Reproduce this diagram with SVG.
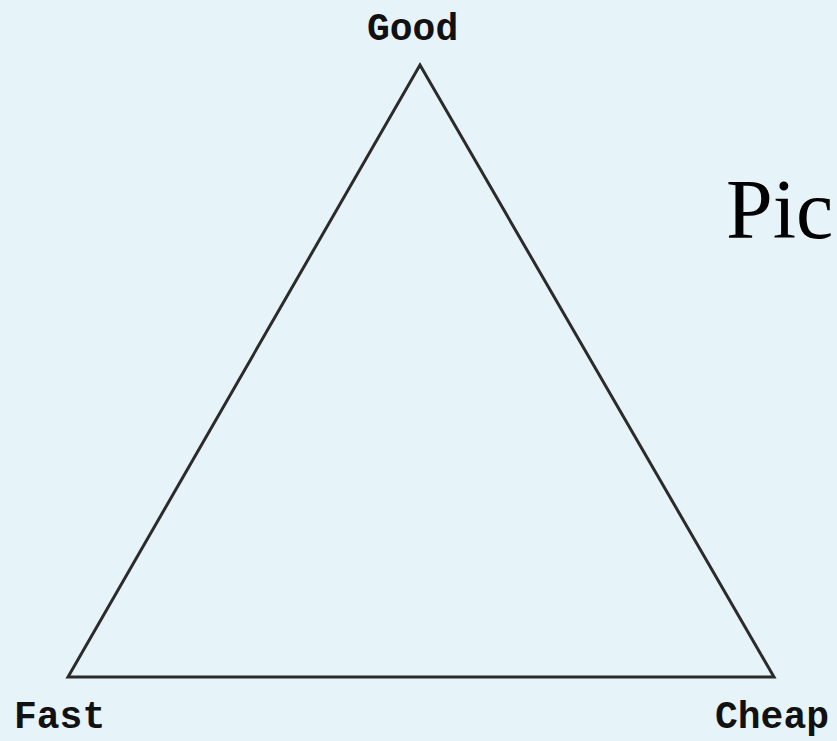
<svg xmlns="http://www.w3.org/2000/svg" width="837" height="741" viewBox="0 0 837 741">
<style>
.lbl{font-family:"Liberation Mono","DejaVu Sans Mono",monospace;font-size:38px;font-weight:bold;fill:#111}
.edge{fill:none;stroke:#2b2b2b;stroke-width:3;stroke-linejoin:miter}
.title{font-family:"Liberation Serif","DejaVu Serif",serif;font-size:84px;fill:#000}
</style>
<rect width="837" height="741" fill="#e6f3f9"/>
<g id="connectors">
<polygon class="edge" points="420,65 774,677 68,677"/>
</g>
<g id="good"><text class="lbl" x="367" y="40">Good</text></g>
<g id="fast"><text class="lbl" x="14" y="728">Fast</text></g>
<g id="cheap"><text class="lbl" x="715" y="728">Cheap</text></g>
<g id="title"><text class="title" x="726" y="238">Pic</text></g>
</svg>
